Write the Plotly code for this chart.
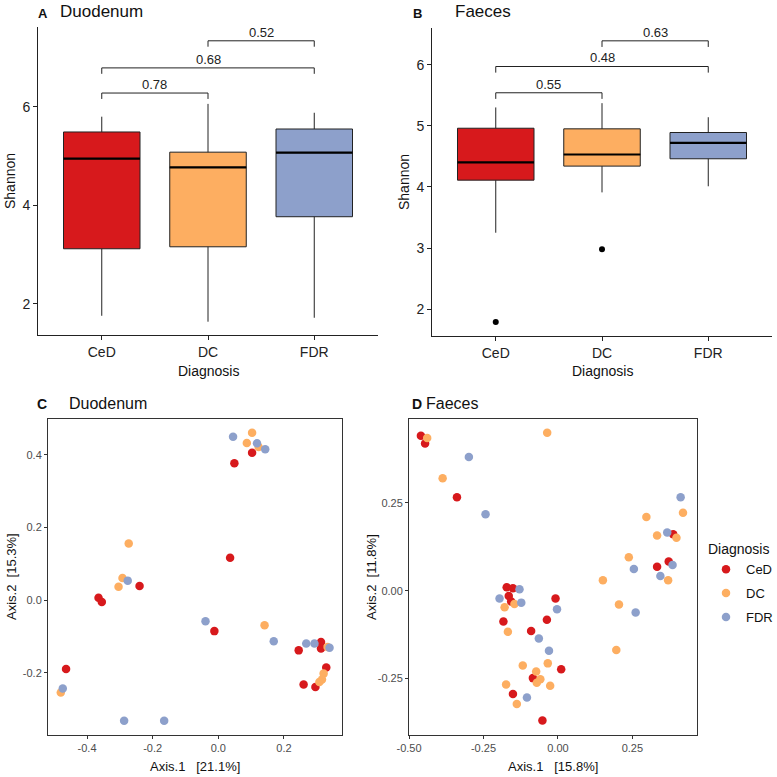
import plotly.graph_objects as go

# ---------------- data ----------------
categories = ["CeD", "DC", "FDR"]
group_colors = ["#D7191C", "#FDAE61", "#8DA0CB"]

# Panel A: Duodenum Shannon boxplot stats
duo_q1 = [3.12, 3.16, 3.77]
duo_median = [4.95, 4.77, 5.07]
duo_q3 = [5.49, 5.08, 5.55]
duo_lower = [1.76, 1.64, 1.72]
duo_upper = [5.80, 6.06, 5.88]

# Panel B: Faeces Shannon boxplot stats
fae_q1 = [4.11, 4.34, 4.46]
fae_median = [4.40, 4.53, 4.72]
fae_q3 = [4.96, 4.95, 4.89]
fae_lower = [3.25, 3.91, 4.01]
fae_upper = [5.30, 5.37, 5.14]
fae_outlier_group = [0, 1]
fae_outlier_value = [1.79, 2.98]

# pairwise comparisons (group index pairs) with p values and bracket heights
comparisons = [(0, 1), (0, 2), (1, 2)]
duo_pvalues = ["0.78", "0.68", "0.52"]
duo_bracket_y = [6.28, 6.79, 7.34]
fae_pvalues = ["0.55", "0.48", "0.63"]
fae_bracket_y = [5.54, 5.97, 6.39]

# Panel C: Duodenum PCoA
duo_ced_x = [0.103, 0.049, 0.036, -0.240, -0.365, -0.355, -0.012, 0.313, 0.313, 0.245, 0.329, 0.260, 0.296, -0.464]
duo_ced_y = [0.406, 0.377, 0.117, 0.039, 0.007, -0.005, -0.085, -0.115, -0.133, -0.138, -0.185, -0.232, -0.239, -0.189]
duo_dc_x = [0.103, 0.087, 0.123, -0.273, -0.292, -0.304, 0.141, 0.333, 0.321, 0.316, 0.308, -0.480]
duo_dc_y = [0.461, 0.433, 0.422, 0.156, 0.061, 0.037, -0.069, -0.129, -0.202, -0.218, -0.225, -0.254]
duo_fdr_x = [0.045, 0.118, 0.143, -0.276, -0.039, 0.169, 0.268, 0.293, 0.339, -0.474, -0.287, -0.165]
duo_fdr_y = [0.450, 0.432, 0.416, 0.054, -0.058, -0.113, -0.119, -0.119, -0.131, -0.243, -0.332, -0.332]

# Panel D: Faeces PCoA
fae_ced_x = [-0.460, -0.446, -0.339, 0.333, 0.372, 0.387, -0.172, -0.151, -0.165, -0.157, -0.008, -0.183, -0.090, -0.037, 0.011, -0.084, -0.151, -0.052]
fae_ced_y = [0.441, 0.419, 0.266, 0.068, 0.083, 0.161, 0.010, 0.007, -0.015, -0.031, -0.022, -0.088, -0.115, -0.083, -0.224, -0.249, -0.294, -0.370]
fae_dc_x = [-0.439, -0.036, -0.387, 0.297, 0.420, 0.333, 0.398, 0.238, 0.370, 0.151, 0.205, 0.196, -0.179, -0.146, -0.168, -0.118, -0.034, -0.073, -0.059, -0.071, -0.026, -0.174, -0.138]
fae_dc_y = [0.435, 0.450, 0.320, 0.210, 0.222, 0.157, 0.151, 0.095, 0.030, 0.030, -0.039, -0.169, -0.047, -0.038, -0.117, -0.213, -0.207, -0.230, -0.252, -0.262, -0.271, -0.267, -0.323]
fae_fdr_x = [-0.299, -0.243, 0.412, 0.367, 0.255, 0.385, 0.344, 0.261, -0.196, -0.129, -0.123, -0.003, -0.064, -0.030, -0.104]
fae_fdr_y = [0.381, 0.218, 0.266, 0.166, 0.062, 0.073, 0.042, -0.062, -0.022, 0.004, -0.034, -0.053, -0.136, -0.171, -0.304]

# tick labels
shannon_a_ticks = [2, 4, 6]
shannon_b_ticks = [2, 3, 4, 5, 6]
c_x_ticks = [-0.4, -0.2, 0.0, 0.2]
c_x_ticklabels = ["-0.4", "-0.2", "0.0", "0.2"]
c_y_ticks = [-0.2, 0.0, 0.2, 0.4]
c_y_ticklabels = ["-0.2", "0.0", "0.2", "0.4"]
d_x_ticks = [-0.5, -0.25, 0.0, 0.25]
d_x_ticklabels = ["-0.50", "-0.25", "0.00", "0.25"]
d_y_ticks = [-0.25, 0.0, 0.25]
d_y_ticklabels = ["-0.25", "0.00", "0.25"]

# ---------------- figure ----------------
W = H = 777
FONT = "Liberation Sans, Arial, sans-serif"


def px_x(p):
    return p / W


def px_y(p):
    return 1 - p / H


fig = go.Figure()
BOX_W = 0.72

panels_box = [
    ("x", "y", duo_q1, duo_median, duo_q3, duo_lower, duo_upper, duo_pvalues, duo_bracket_y, 0.12),
    ("x2", "y2", fae_q1, fae_median, fae_q3, fae_lower, fae_upper, fae_pvalues, fae_bracket_y, 0.10),
]
annotations = []
for xa, ya, q1, med, q3, lo, hi, pv, by, drop in panels_box:
    for i, cat in enumerate(categories):
        fig.add_trace(go.Box(
            x=[i], q1=[q1[i]], median=[med[i]], q3=[q3[i]],
            lowerfence=[lo[i]], upperfence=[hi[i]],
            fillcolor=group_colors[i], line=dict(color="#222222", width=1),
            whiskerwidth=0, width=BOX_W, boxpoints=False,
            showlegend=False, xaxis=xa, yaxis=ya, hoverinfo="skip",
        ))
        fig.add_trace(go.Scatter(
            x=[i - BOX_W / 2, i + BOX_W / 2], y=[med[i], med[i]], mode="lines",
            line=dict(color="black", width=2.2), showlegend=False,
            xaxis=xa, yaxis=ya, hoverinfo="skip",
        ))
    for (a, b), p, y in zip(comparisons, pv, by):
        fig.add_trace(go.Scatter(
            x=[a, a, b, b], y=[y - drop, y, y, y - drop], mode="lines",
            line=dict(color="#222222", width=1), showlegend=False,
            xaxis=xa, yaxis=ya, hoverinfo="skip",
        ))
        annotations.append(dict(
            x=(a + b) / 2, y=y, xref=xa, yref=ya, text=p, showarrow=False,
            yanchor="bottom", yshift=-1, font=dict(size=13, color="#222222", family=FONT),
        ))

# outliers panel B
fig.add_trace(go.Scatter(
    x=fae_outlier_group, y=fae_outlier_value, mode="markers",
    marker=dict(color="black", size=6), showlegend=False,
    xaxis="x2", yaxis="y2", hoverinfo="skip",
))

# PCoA scatter
scatter_sets = [
    ("x3", "y3", [(duo_ced_x, duo_ced_y), (duo_dc_x, duo_dc_y), (duo_fdr_x, duo_fdr_y)], False),
    ("x4", "y4", [(fae_ced_x, fae_ced_y), (fae_dc_x, fae_dc_y), (fae_fdr_x, fae_fdr_y)], True),
]
for xa, ya, groups, legend in scatter_sets:
    for i, (gx, gy) in enumerate(groups):
        fig.add_trace(go.Scatter(
            x=gx, y=gy, mode="markers", name=categories[i], legendgroup=categories[i],
            marker=dict(color=group_colors[i], size=8.5, line=dict(width=0)),
            showlegend=legend, xaxis=xa, yaxis=ya, hoverinfo="skip",
        ))

# ---------------- axes ----------------
box_axis = dict(showline=True, linecolor="#222222", linewidth=1, ticks="outside",
                ticklen=4, tickcolor="#222222", showgrid=False, zeroline=False, automargin=False,
                tickfont=dict(size=14, color="#222222", family=FONT))
pc_axis = dict(showline=True, linecolor="#333333", linewidth=1, mirror=True, ticks="outside",
               ticklen=3, tickcolor="#333333", showgrid=False, zeroline=False, automargin=False,
               tickfont=dict(size=11, color="#4D4D4D", family=FONT))

fig.update_layout(
    xaxis=dict(box_axis, domain=[px_x(38), px_x(378)], range=[-0.6, 2.6],
               tickvals=[0, 1, 2], ticktext=categories, anchor="y"),
    yaxis=dict(box_axis, domain=[px_y(335), px_y(27)], range=[1.37, 7.62],
               tickvals=shannon_a_ticks, anchor="x"),
    xaxis2=dict(box_axis, domain=[px_x(432), px_x(772)], range=[-0.6, 2.6],
                tickvals=[0, 1, 2], ticktext=categories, anchor="y2"),
    yaxis2=dict(box_axis, domain=[px_y(336), px_y(28)], range=[1.56, 6.6],
                tickvals=shannon_b_ticks, anchor="x2"),
    xaxis3=dict(pc_axis, domain=[px_x(48), px_x(342)], range=[-0.519, 0.377],
                tickvals=c_x_ticks, ticktext=c_x_ticklabels, anchor="y3"),
    yaxis3=dict(pc_axis, domain=[px_y(735), px_y(419)], range=[-0.371, 0.499],
                tickvals=c_y_ticks, ticktext=c_y_ticklabels, anchor="x3"),
    xaxis4=dict(pc_axis, domain=[px_x(409), px_x(697)], range=[-0.5, 0.467],
                tickvals=d_x_ticks, ticktext=d_x_ticklabels, anchor="y4"),
    yaxis4=dict(pc_axis, domain=[px_y(735), px_y(419)], range=[-0.411, 0.489],
                tickvals=d_y_ticks, ticktext=d_y_ticklabels, anchor="x4"),
)

# ---------------- titles / axis labels ----------------
def ann(x, y, text, size, color="#111111", angle=0, xanchor="center", yanchor="middle", bold=False):
    annotations.append(dict(
        x=px_x(x), y=px_y(y), xref="paper", yref="paper", text=("<b>%s</b>" % text) if bold else text,
        showarrow=False, textangle=angle, xanchor=xanchor, yanchor=yanchor,
        font=dict(size=size, color=color, family=FONT),
    ))

ann(36, 13, "A", 13, xanchor="left", bold=True)
ann(58, 12, "Duodenum", 17, xanchor="left")
ann(411, 13, "B", 13, xanchor="left", bold=True)
ann(453, 12, "Faeces", 17, xanchor="left")
ann(35, 404, "C", 14, xanchor="left", bold=True)
ann(67, 403, "Duodenum", 16, xanchor="left")
ann(410, 404, "D", 14, xanchor="left", bold=True)
ann(424, 403, "Faeces", 16, xanchor="left")

ann(10, 181, "Shannon", 14, angle=-90)
ann(208, 371, "Diagnosis", 14)
ann(404, 182, "Shannon", 14, angle=-90)
ann(602, 371, "Diagnosis", 14)
ann(11, 577, "Axis.2  [15.3%]", 13, angle=-90)
ann(195, 766, "Axis.1   [21.1%]", 13)
ann(371, 577, "Axis.2  [11.8%]", 13, angle=-90)
ann(553, 766, "Axis.1   [15.8%]", 13)

fig.update_layout(
    template="none",
    width=W, height=H, margin=dict(l=0, r=0, t=0, b=0, autoexpand=False),
    paper_bgcolor="white", plot_bgcolor="white",
    boxmode="overlay",
    font=dict(family=FONT),
    annotations=annotations,
    legend=dict(
        title=dict(text="Diagnosis", font=dict(size=14, color="#111111", family=FONT)),
        x=px_x(706), y=px_y(536), xanchor="left", yanchor="top",
        font=dict(size=13, color="#111111", family=FONT),
        bgcolor="rgba(0,0,0,0)", tracegroupgap=4, itemsizing="trace",
    ),
)

# remove the page's default body margin so the figure sits at the window corner
fig.write_html(
    "out.html",
    config={"displayModeBar": False},
    post_script="document.body.style.margin='0';document.body.style.overflow='hidden';",
)
